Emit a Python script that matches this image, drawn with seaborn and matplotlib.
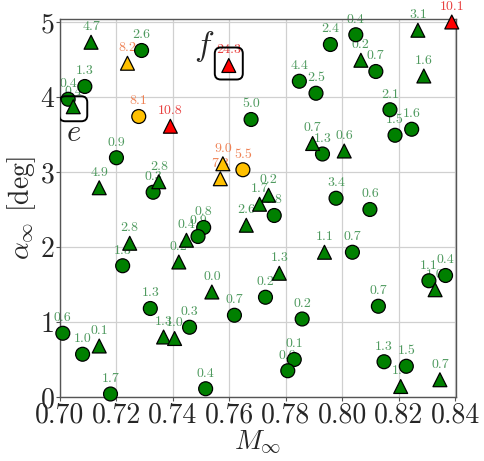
import numpy as np
import pandas as pd
import matplotlib
matplotlib.use("Agg")
import matplotlib.pyplot as plt
import matplotlib.transforms as mtransforms
from matplotlib.patches import FancyBboxPatch
import seaborn as sns

# Operating points: free-stream Mach number, angle of attack and the error value shown next to each point
circ_mach = [0.7289, 0.7088, 0.7029, 0.7848, 0.7907, 0.7677, 0.7958, 0.8048, 0.8119, 0.8169,
             0.8246, 0.8187, 0.7200, 0.7330, 0.7222, 0.7759, 0.7509, 0.7489, 0.7930, 0.7978,
             0.8098, 0.8036, 0.8366, 0.8307, 0.8128, 0.8148, 0.8227, 0.7010, 0.7080, 0.7179,
             0.7320, 0.7459, 0.7728, 0.7618, 0.7858, 0.7830, 0.7807, 0.7516, 0.7279, 0.7648]
circ_alpha = [4.62, 4.14, 3.97, 4.21, 4.05, 3.70, 4.70, 4.83, 4.34, 3.83,
              3.57, 3.49, 3.19, 2.73, 1.75, 2.42, 2.26, 2.14, 3.24, 2.65,
              2.50, 1.93, 1.62, 1.55, 1.21, 0.47, 0.41, 0.85, 0.57, 0.04,
              1.18, 0.93, 1.33, 1.09, 1.04, 0.50, 0.35, 0.11, 3.74, 3.03]
circ_err = [2.6, 1.3, 0.4, 4.4, 2.5, 5.0, 2.4, 0.4, 0.7, 2.1,
            1.6, 1.5, 0.9, 0.3, 1.3, 1.8, 0.8, 0.9, 1.3, 3.4,
            0.6, 0.7, 0.4, 1.1, 0.7, 1.3, 1.5, 0.6, 1.0, 1.7,
            1.3, 0.3, 0.2, 0.7, 0.2, 0.1, 0.0, 0.4, 8.1, 5.5]

tri_mach = [0.7110, 0.7047, 0.8066, 0.8268, 0.8289, 0.7139, 0.7350, 0.7247, 0.7421, 0.7448,
            0.7739, 0.7707, 0.7660, 0.7895, 0.7937, 0.7777, 0.8007, 0.8329, 0.8207, 0.8346,
            0.7139, 0.7367, 0.7406, 0.7538, 0.7239, 0.7577, 0.7568, 0.7391, 0.7598, 0.8388]
tri_alpha = [4.73, 3.87, 4.49, 4.89, 4.28, 2.79, 2.87, 2.05, 1.80, 2.09,
             2.69, 2.57, 2.29, 3.38, 1.93, 1.65, 3.28, 1.43, 0.14, 0.23,
             0.68, 0.80, 0.78, 1.40, 4.45, 3.11, 2.91, 3.61, 4.42, 5.00]
tri_err = [4.7, 0.4, 0.2, 3.1, 1.6, 4.9, 2.8, 2.8, 0.2, 0.4,
           0.2, 1.7, 2.6, 0.7, 1.1, 1.3, 0.6, 1.0, 1.0, 0.7,
           0.1, 1.3, 1.0, 0.0, 8.2, 9.0, 7.3, 10.8, 24.3, 10.1]

x_ticks = [0.70, 0.72, 0.74, 0.76, 0.78, 0.80, 0.82, 0.84]
y_ticks = [0, 1, 2, 3, 4, 5]

# highlighted cases: (marker shape, index in that shape's list, letter)
highlights = [("tri", 1, "e"), ("tri", 28, "f")]

marker_colors = {"low": "#008000", "mid": "#FFC000", "high": "#FF0000"}
text_colors = {"low": "#4f9a5f", "mid": "#ef8255", "high": "#e8403f"}


def level(v):
    if v > 10:
        return "high"
    if v > 5:
        return "mid"
    return "low"


df = pd.concat([
    pd.DataFrame({"M": circ_mach, "alpha": circ_alpha, "err": circ_err, "shape": "circ"}),
    pd.DataFrame({"M": tri_mach, "alpha": tri_alpha, "err": tri_err, "shape": "tri"}),
], ignore_index=True)
df["level"] = df["err"].apply(level)

sns.set_theme(style="whitegrid")
plt.rcParams.update({
    "font.family": "serif",
    "font.serif": ["cmr10", "DejaVu Serif"],
    "mathtext.fontset": "cm",
    "axes.formatter.use_mathtext": True,
    "axes.unicode_minus": False,
})

fig = plt.figure(figsize=(4.85, 4.61), dpi=100)
ax = fig.add_axes([60 / 485, 1 - 397 / 461, 396 / 485, 378 / 461])

sns.scatterplot(data=df, x="M", y="alpha", hue="level", style="shape",
                palette=marker_colors, markers={"circ": "o", "tri": "^"},
                s=100, edgecolor="black", linewidth=0.9, legend=False,
                zorder=3, clip_on=False, ax=ax)

for _, r in df.iterrows():
    ax.annotate(f"{r['err']:.1f}", (r["M"], r["alpha"]), xytext=(0, 11),
                textcoords="offset points", ha="center", va="center",
                fontsize=10, color=text_colors[r["level"]], zorder=2,
                annotation_clip=False)

# rounded frames and letters around the highlighted cases
for shape, idx, letter in highlights:
    sub = df[df["shape"] == shape].reset_index(drop=True)
    mx, my = sub.loc[idx, "M"], sub.loc[idx, "alpha"]
    trans = fig.dpi_scale_trans + mtransforms.ScaledTranslation(mx, my, ax.transData)
    if letter == "e":
        w, h, cy = 0.28, 0.25, -0.02
        box = FancyBboxPatch((-w / 2, cy - h / 2), w, h,
                             boxstyle="round,pad=0,rounding_size=0.06",
                             fc="none", ec="black", lw=1.4, transform=trans, zorder=4)
        ax.add_patch(box)
        ax.text(0.0, -0.27, r"$e$", transform=trans, fontsize=22,
                ha="center", va="center", zorder=4)
    else:
        w, h, cy = 0.28, 0.32, 0.02
        box = FancyBboxPatch((-w / 2, cy - h / 2), w, h,
                             boxstyle="round,pad=0,rounding_size=0.06",
                             fc="none", ec="black", lw=1.4, transform=trans, zorder=4)
        ax.add_patch(box)
        ax.text(-0.25, 0.19, r"$f$", transform=trans, fontsize=24,
                ha="center", va="center", zorder=4)

ax.set_xlim(0.70, 0.8403)
ax.set_ylim(0, 5.04)
ax.set_xticks(x_ticks)
ax.set_xticklabels([f"{t:.2f}" for t in x_ticks])
ax.set_yticks(y_ticks)
ax.set_yticklabels([str(t) for t in y_ticks])
ax.tick_params(labelsize=20, length=3, width=0.8, pad=1, bottom=True, left=True,
               color="#555555")
ax.set_xlabel(r"$M_\infty$", fontsize=20, labelpad=0)
ax.set_ylabel(r"$\alpha_\infty$ [deg]", fontsize=20, labelpad=2)
ax.grid(True, color="#d0d0d0", lw=0.9)
for sp in ax.spines.values():
    sp.set_color("#555555")
    sp.set_linewidth(1.0)

fig.savefig("out.png", dpi=100)
